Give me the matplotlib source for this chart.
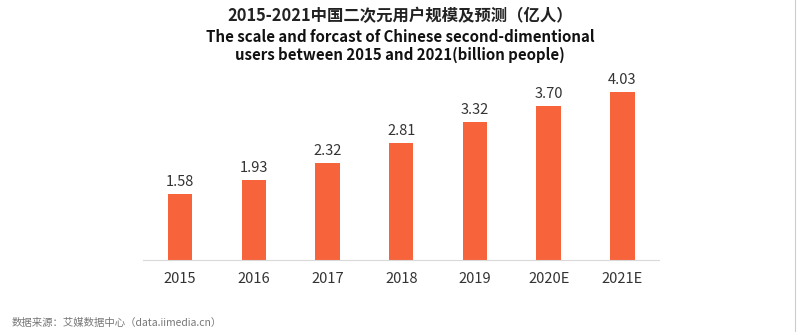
import matplotlib
matplotlib.use('Agg')
import matplotlib.pyplot as plt
from matplotlib.lines import Line2D

plt.rcParams['font.family'] = ['Noto Sans CJK SC', 'DejaVu Sans']

years = ['2015', '2016', '2017', '2018', '2019', '2020E', '2021E']
users = [1.58, 1.93, 2.32, 2.81, 3.32, 3.70, 4.03]

bar_color = '#F7633A'

fig = plt.figure(figsize=(8, 3.32), dpi=100)
ax = fig.add_axes([0.179, 0.217, 0.645, 0.565])

x = range(len(years))
ax.bar(x, users, width=0.33, color=bar_color, zorder=2)

# value labels over each bar
for i, v in zip(x, users):
    ax.text(i, v + 0.12, f'{v:.2f}', ha='center', va='bottom',
            fontsize=10.5, color='#333333')

ax.set_xlim(-0.5, 6.5)
ax.set_ylim(0, 4.5)
ax.set_xticks(list(x))
ax.set_xticklabels(years, fontsize=10.5, color='#333333')
ax.tick_params(axis='x', length=0, pad=9)
ax.set_yticks([])

for side in ['top', 'right', 'left']:
    ax.spines[side].set_visible(False)
ax.spines['bottom'].set_color('#d9d9d9')
ax.spines['bottom'].set_linewidth(0.8)

# titles
fig.text(0.5, 0.952, '2015-2021中国二次元用户规模及预测（亿人）', ha='center', va='center',
         fontsize=11.8, fontweight='bold', color='#222222')
fig.text(0.5, 0.890, 'The scale and forcast of Chinese second-dimentional', ha='center',
         va='center', fontsize=10.8, fontweight='bold', color='#111111')
fig.text(0.5, 0.835, 'users between 2015 and 2021(billion people)', ha='center',
         va='center', fontsize=10.8, fontweight='bold', color='#111111')

# source note
fig.text(0.015, 0.027, '数据来源：艾媒数据中心（data.iimedia.cn）', ha='left', va='center',
         fontsize=7.5, color='#777777')

# thin border on the right edge
fig.add_artist(Line2D([0.994, 0.994], [0, 1], transform=fig.transFigure,
                      color='#cccccc', linewidth=0.8))

fig.savefig('out.png', dpi=100)
